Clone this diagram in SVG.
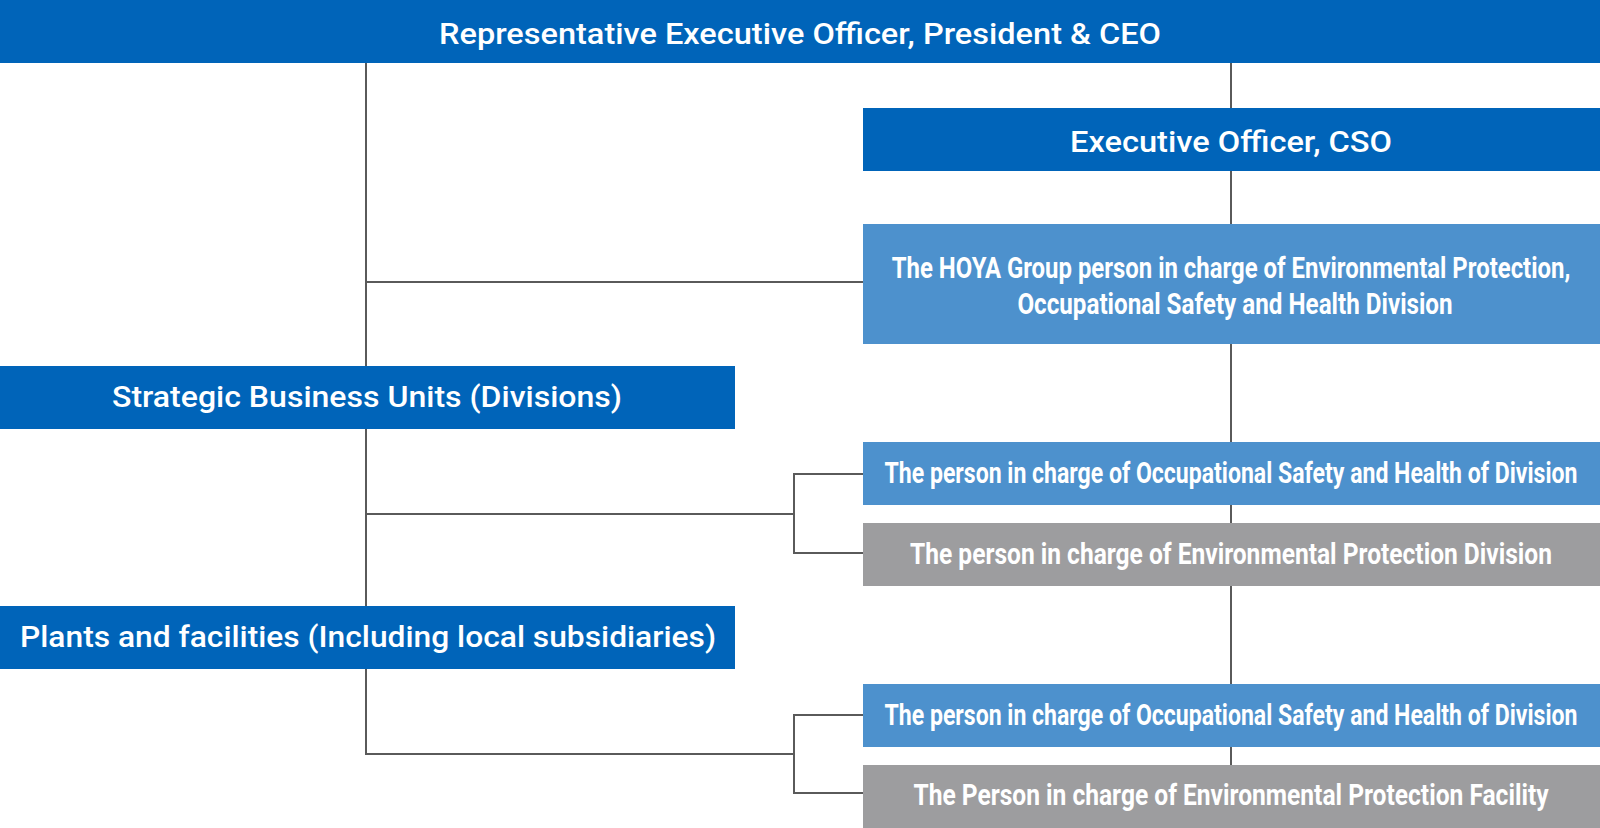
<svg xmlns="http://www.w3.org/2000/svg" width="1600" height="828" viewBox="0 0 1600 828">
<style>
.dark{fill:#0064b9}
.light{fill:#4d91cd}
.gray{fill:#9d9d9f}
.t{font-family:Roboto,"Liberation Sans",sans-serif;font-size:29px;font-weight:500;fill:#ffffff;text-anchor:middle}
.c{font-family:Roboto,"Liberation Sans",sans-serif;font-size:30px;font-weight:700;fill:#ffffff;text-anchor:middle}
.ln{stroke:#5a5a5a;stroke-width:2;fill:none}
</style>
<rect width="1600" height="828" fill="#ffffff"/>
<g id="connectors">
<path class="ln" d="M366 63V754H794"/>
<path class="ln" d="M366 282H863"/>
<path class="ln" d="M1231 63V765"/>
<path class="ln" d="M366 514H794M863 474H794V553H863"/>
<path class="ln" d="M863 715H794V793H863"/>
</g>
<g id="ceo">
<rect class="dark" x="0" y="0" width="1600" height="63"/>
<text class="t" x="800" y="44" textLength="722" lengthAdjust="spacingAndGlyphs">Representative Executive Officer, President &amp; CEO</text>
</g>
<g id="cso">
<rect class="dark" x="863" y="108" width="737" height="63"/>
<text class="t" x="1231" y="152" textLength="322" lengthAdjust="spacingAndGlyphs">Executive Officer, CSO</text>
</g>
<g id="hoya">
<rect class="light" x="863" y="224" width="737" height="120"/>
<text class="c" transform="translate(1231 278) scale(0.68 1)" textLength="998" lengthAdjust="spacingAndGlyphs">The HOYA Group person in charge of Environmental Protection,</text>
<text class="c" transform="translate(1235 314) scale(0.68 1)" textLength="640" lengthAdjust="spacingAndGlyphs">Occupational Safety and Health Division</text>
</g>
<g id="sbu">
<rect class="dark" x="0" y="366" width="735" height="63"/>
<text class="t" x="367" y="407" textLength="510" lengthAdjust="spacingAndGlyphs">Strategic Business Units (Divisions)</text>
</g>
<g id="osh-division">
<rect class="light" x="863" y="442" width="737" height="63"/>
<text class="c" transform="translate(1231 483) scale(0.68 1)" textLength="1019" lengthAdjust="spacingAndGlyphs">The person in charge of Occupational Safety and Health of Division</text>
</g>
<g id="env-division">
<rect class="gray" x="863" y="523" width="737" height="63"/>
<text class="c" transform="translate(1231 564) scale(0.68 1)" textLength="944" lengthAdjust="spacingAndGlyphs">The person in charge of Environmental Protection Division</text>
</g>
<g id="plants">
<rect class="dark" x="0" y="606" width="735" height="63"/>
<text class="t" x="368" y="647" textLength="696" lengthAdjust="spacingAndGlyphs">Plants and facilities (Including local subsidiaries)</text>
</g>
<g id="osh-plant">
<rect class="light" x="863" y="684" width="737" height="63"/>
<text class="c" transform="translate(1231 725) scale(0.68 1)" textLength="1019" lengthAdjust="spacingAndGlyphs">The person in charge of Occupational Safety and Health of Division</text>
</g>
<g id="env-facility">
<rect class="gray" x="863" y="765" width="737" height="63"/>
<text class="c" transform="translate(1231 805) scale(0.68 1)" textLength="934" lengthAdjust="spacingAndGlyphs">The Person in charge of Environmental Protection Facility</text>
</g>
</svg>
